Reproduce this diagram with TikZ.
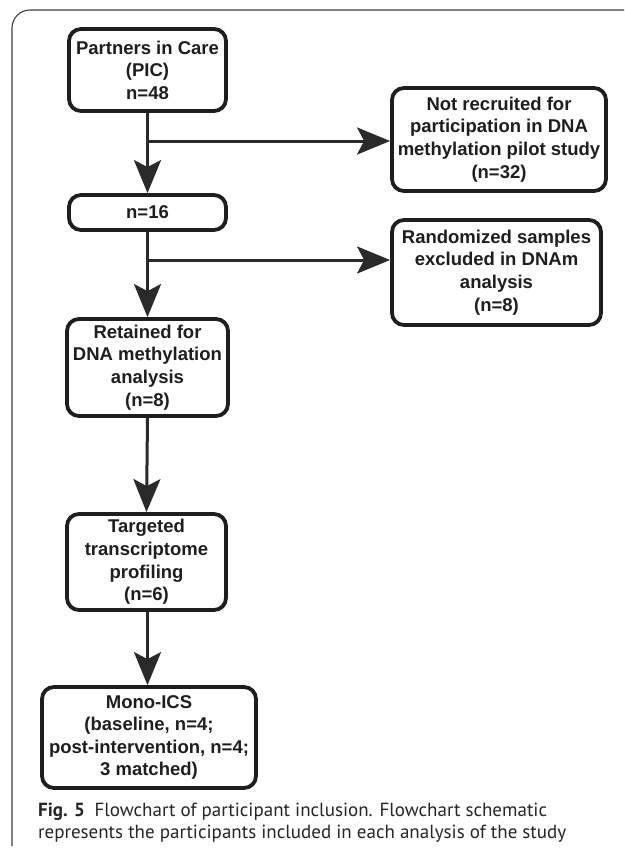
\documentclass[tikz,border=0pt]{standalone}
\usepackage{fontspec}
\setmainfont{Liberation Sans}
\newfontfamily\capfont{PT Sans}
\usetikzlibrary{arrows.meta}
\definecolor{ink}{HTML}{1E1E1E}
\definecolor{lineink}{HTML}{2A2A2A}
\tikzset{
  flowbox/.style={draw=ink, line width=3.8pt, rounded corners=12pt, fill=white,
    align=center, inner sep=2pt, text=ink,
    font=\fontsize{18.5}{22.6}\selectfont\bfseries},
  conn/.style={draw=lineink, line width=3pt,
    -{Stealth[length=33pt,width=27pt,inset=7pt]}},
  plainline/.style={draw=lineink, line width=3pt}
}
\begin{document}
\begin{tikzpicture}[x=1pt,y=-1pt]
\useasboundingbox (0,0) rectangle (624,854);
\fill[white] (0,0) rectangle (624,854);
% outer frame
\draw[line width=1.1pt, draw=black!75, rounded corners=18pt] (624,10) -- (12,10) -- (12,846);

\node[flowbox, minimum width=157pt, minimum height=82pt] (pic) at (147.5,70)
  {Partners in Care\\(PIC)\\n=48};
\node[flowbox, minimum width=157pt, minimum height=35pt] (n16) at (147.5,212.5) {n=16};
\node[flowbox, minimum width=214pt, minimum height=103pt] (notrec) at (499,139.5)
  {Not recruited for\\participation in DNA\\methylation pilot study\\(n=32)};
\node[flowbox, minimum width=209pt, minimum height=105pt] (rand) at (496.5,272.5)
  {Randomized samples\\excluded in DNAm\\analysis\\(n=8)};
\node[flowbox, minimum width=161pt, minimum height=97pt] (ret) at (147.5,367.5)
  {Retained for\\DNA methylation\\analysis\\(n=8)};
\node[flowbox, minimum width=159pt, minimum height=96pt] (tgt) at (146.5,562)
  {Targeted\\transcriptome\\profiling\\(n=6)};
\node[flowbox, minimum width=214pt, minimum height=101pt] (mono) at (149,737.5)
  {Mono-ICS\\(baseline, n=4;\\post-intervention, n=4;\\3 matched)};

\coordinate (b1) at (147.5,141);
\coordinate (b2) at (147.5,260);

\draw[conn] (pic.south) -- (n16.north);
\draw[conn] (b1) -- (b1 -| notrec.west);
\draw[conn] (n16.south) -- (ret.north);
\draw[conn] (b2) -- (b2 -| rand.west);
\draw[conn] (ret.south) -- (tgt.north);
\draw[conn] (tgt.south -| ret.south) -- (mono.north -| ret.south);

\node[anchor=base west, align=left, inner sep=0pt, text=black!85,
  font=\capfont\fontsize{19}{22}\selectfont] (cap) at (38,838)
  {\textbf{Fig. 5}\enspace Flowchart of participant inclusion. Flowchart schematic\\
   represents the participants included in each analysis of the study};
\end{tikzpicture}
\end{document}
